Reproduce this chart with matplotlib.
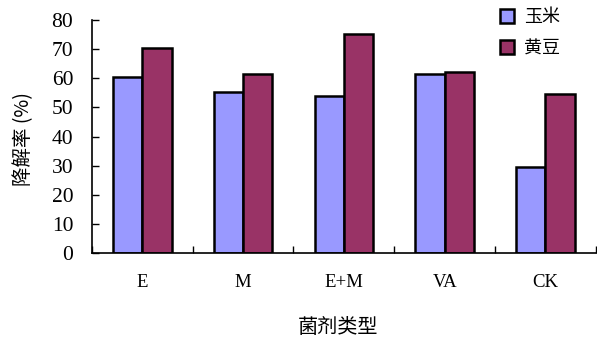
import matplotlib.pyplot as plt
import numpy as np

plt.rcParams['font.family'] = ['Noto Sans CJK SC', 'DejaVu Sans']

# data
categories = ['E', 'M', 'E+M', 'VA', 'CK']
corn = [60.5, 55.3, 54.0, 61.5, 29.5]
soybean = [70.4, 61.5, 75.3, 62.0, 54.5]
series_names = ['玉米', '黄豆']

fig = plt.figure(figsize=(5.97, 3.40), dpi=100)
ax = fig.add_axes([0.154, 0.256, 0.844, 0.685])

x = np.arange(len(categories)) + 0.5
w = 0.29
ax.bar(x - w / 2, corn, w, color='#9999FF', edgecolor='black', linewidth=1.8,
       label=series_names[0])
ax.bar(x + w / 2, soybean, w, color='#993366', edgecolor='black', linewidth=1.8,
       label=series_names[1])

ax.set_xlim(0, len(categories))
ax.set_ylim(0, 80)
ax.set_yticks(range(0, 81, 10))
ax.set_xticks(range(0, len(categories) + 1))
ax.set_xticklabels([])
ax.set_xticks(x, minor=True)
ax.set_xticklabels(categories, minor=True, family='Liberation Serif', fontsize=13.5)
ax.tick_params(axis='x', which='minor', length=0, pad=15)
ax.tick_params(axis='x', which='major', direction='in', length=5, width=1)
ax.tick_params(axis='y', direction='in', length=5, width=1, pad=13.5)
for lab in ax.get_yticklabels():
    lab.set_family('Liberation Serif')
    lab.set_fontsize(15.5)

for s in ['top', 'right']:
    ax.spines[s].set_visible(False)
for s in ['left', 'bottom']:
    ax.spines[s].set_linewidth(1.2)

ax.set_ylabel('降解率 (%)', fontsize=14)
ax.yaxis.set_label_coords(-0.115, 0.49)
ax.set_xlabel('菌剂类型', fontsize=14.5)
ax.xaxis.set_label_coords(0.488, -0.275)

ax.legend(loc='upper left', bbox_to_anchor=(500 / 597, 1 - 8 / 340),
          bbox_transform=fig.transFigure, frameon=False, borderpad=0,
          borderaxespad=0, fontsize=13, handlelength=0.78, handleheight=0.78,
          handletextpad=0.55, labelspacing=0.75)

plt.savefig('out.png', dpi=100)
plt.close()
